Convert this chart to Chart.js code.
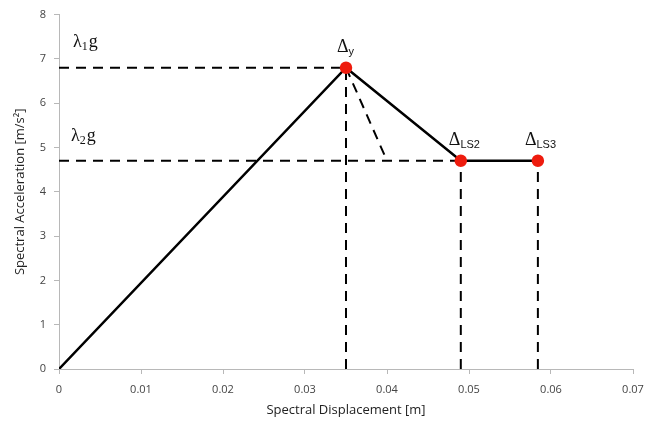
<!DOCTYPE html>
<html>
<head>
<meta charset="utf-8">
<script src="https://cdn.jsdelivr.net/npm/chart.js@4"></script>
<style>
  html, body { margin: 0; padding: 0; background: #fff; }
  #wrap { width: 646px; height: 432px; }
</style>
</head>
<body>
<div id="wrap"><canvas id="capacity"></canvas></div>
<script>
// capacity curve points (displacement m, acceleration m/s2)
var dispPoints = [0, 0.035, 0.049, 0.0584]
var accelPoints = [0, 6.8, 4.7, 4.7]
var pointSizes = [0, 5, 5, 5]
var elasticEnd = 0.040
var xTicks = [0, 0.01, 0.02, 0.03, 0.04, 0.05, 0.06, 0.07]
var yTicks = [0, 1, 2, 3, 4, 5, 6, 7, 8]

var peakDisp = dispPoints[1]
var peakAcc = accelPoints[1]
var plateauAcc = accelPoints[2]

var toXY = function(xs, ys){
  return xs.map(function(x, i){ return {x: x, y: ys[i]} })
}

// dashed guide lines, broken up with nulls
var guideX = [0, peakDisp, null, 0, dispPoints[2], null,
  peakDisp, peakDisp, null, dispPoints[2], dispPoints[2], null,
  dispPoints[3], dispPoints[3], null, peakDisp, elasticEnd]
var guideY = [peakAcc, peakAcc, null, plateauAcc, plateauAcc, null,
  0, peakAcc, null, 0, plateauAcc, null,
  0, plateauAcc, null, peakAcc, plateauAcc]

var labelPlugin = {
  id: 'curveLabels',
  afterDatasetsDraw: function(chart){
    var ctx = chart.ctx
    var xs = chart.scales.x
    var ys = chart.scales.y
    var serif = '"Liberation Serif", "DejaVu Serif", serif'
    var drawSub = function(x, y, main, sub, tail, subFont){
      ctx.save()
      ctx.fillStyle = '#111'
      ctx.textBaseline = 'alphabetic'
      ctx.font = '18px ' + serif
      ctx.fillText(main, x, y)
      var w = ctx.measureText(main).width
      ctx.font = subFont
      ctx.fillText(sub, x + w, y + 3)
      var w2 = ctx.measureText(sub).width
      if(tail){
        ctx.font = '18px ' + serif
        ctx.fillText(tail, x + w + w2 + 1, y)
      }
      ctx.restore()
    }
    drawSub(73, ys.getPixelForValue(peakAcc) - 21, '\u03bb', '1', 'g', '12px ' + serif)
    drawSub(71, ys.getPixelForValue(plateauAcc) - 20, '\u03bb', '2', 'g', '12px ' + serif)
    drawSub(xs.getPixelForValue(peakDisp) - 9, ys.getPixelForValue(peakAcc) - 16,
      '\u0394', 'y', null, '11px "Liberation Sans", sans-serif')
    drawSub(xs.getPixelForValue(dispPoints[2]) - 12, ys.getPixelForValue(plateauAcc) - 16,
      '\u0394', 'LS2', null, '11px "Liberation Sans", sans-serif')
    drawSub(xs.getPixelForValue(dispPoints[3]) - 13, ys.getPixelForValue(plateauAcc) - 16,
      '\u0394', 'LS3', null, '11px "Liberation Sans", sans-serif')
  }
}

var tickFont = {family: '"Open Sans", "Liberation Sans", sans-serif', size: 11}
var titleFont = {family: '"Open Sans", "Liberation Sans", sans-serif', size: 13}

new Chart(document.getElementById('capacity'), {
  type: 'line',
  data: {
    datasets: [
      {
        data: toXY(guideX, guideY),
        borderColor: '#000',
        borderWidth: 2,
        borderDash: [10, 7],
        pointRadius: 0,
        spanGaps: false,
        order: 2
      },
      {
        data: toXY(dispPoints, accelPoints),
        borderColor: '#000',
        borderWidth: 2.5,
        pointRadius: pointSizes,
        pointBackgroundColor: '#ee1c0e',
        pointBorderColor: '#ee1c0e',
        order: 1
      }
    ]
  },
  options: {
    responsive: true,
    maintainAspectRatio: false,
    animation: false,
    layout: {padding: {top: 12, right: 13, left: 0, bottom: 0}},
    plugins: {legend: {display: false}, tooltip: {enabled: false}},
    scales: {
      x: {
        type: 'linear',
        min: 0,
        max: 0.07,
        afterBuildTicks: function(scale){
          scale.ticks = xTicks.map(function(v){ return {value: v} })
        },
        afterFit: function(scale){
          scale.height = 63
          scale.paddingRight = 0
          scale.paddingLeft = 0
        },
        ticks: {color: '#444', font: tickFont, padding: 9, maxRotation: 0,
          callback: function(v){ return String(Math.round(v * 100) / 100) }},
        grid: {drawOnChartArea: false, color: '#b8b8b8', tickLength: 5},
        border: {color: '#b8b8b8', width: 1},
        title: {display: true, text: 'Spectral Displacement [m]', color: '#222',
          font: titleFont, padding: {top: 4, bottom: 14}}
      },
      y: {
        min: 0,
        max: 8,
        afterBuildTicks: function(scale){
          scale.ticks = yTicks.map(function(v){ return {value: v} })
        },
        afterFit: function(scale){ scale.width = 59 },
        ticks: {color: '#444', font: tickFont, padding: 8},
        grid: {drawOnChartArea: false, color: '#b8b8b8', tickLength: 5},
        border: {color: '#b8b8b8', width: 1},
        title: {display: true, text: 'Spectral Acceleration [m/s\u00b2]', color: '#222',
          font: titleFont, padding: {top: 12, bottom: 4}}
      }
    }
  },
  plugins: [labelPlugin]
})
</script>
</body>
</html>
